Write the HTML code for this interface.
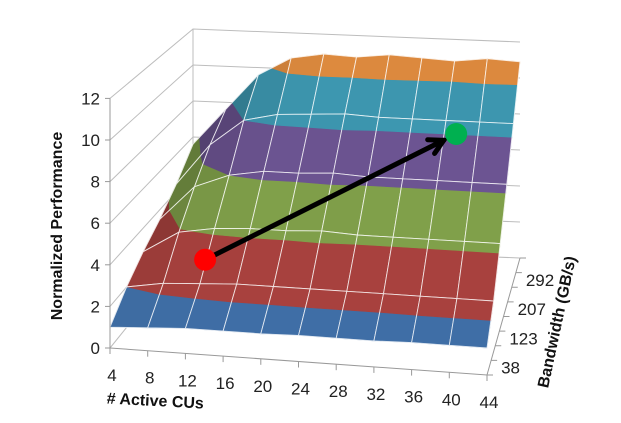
<!DOCTYPE html>
<html><head><meta charset="utf-8"><style>
html,body{margin:0;padding:0;background:#fff;}
svg{display:block;font-family:"Liberation Sans",Arial,sans-serif;}
</style></head><body>
<svg id="chart" width="621" height="423" viewBox="0 0 621 423" xmlns="http://www.w3.org/2000/svg">
<g id="walls"></g>
<g id="surface"></g>
<g id="axes"></g>
<g id="annot"></g>
<text transform="translate(62,226) rotate(-90)" text-anchor="middle" font-size="16" font-weight="bold" fill="#111">Normalized Performance</text>
<text transform="translate(155,406) rotate(3)" text-anchor="middle" font-size="16" font-weight="bold" fill="#111"># Active CUs</text>
<text transform="translate(562,323) rotate(-78)" text-anchor="middle" font-size="16" font-weight="bold" fill="#111">Bandwidth (GB/s)</text>
</svg>
<script>
const cuLabels = ["4","8","12","16","20","24","28","32","36","40","44"];
const bwLabels = ["38","123","207","292"];
const zTicks = [0,2,4,6,8,10,12];
const row0 = [1.0,1.1,1.2,1.2,1.2,1.25,1.25,1.25,1.3,1.3,1.3];
const row1 = [2.0,2.3,2.4,2.5,2.5,2.5,2.5,2.5,2.5,2.5,2.5];
const row2 = [2.8,3.9,4.2,4.3,4.3,4.4,4.3,4.3,4.3,4.3,4.3];
const row3 = [3.5,5.3,6.0,6.3,6.3,6.4,6.3,6.3,6.3,6.3,6.3];
const row4 = [4.4,6.6,8.0,8.4,8.5,8.6,8.5,8.5,8.5,8.5,8.5];
const row5 = [5.6,7.6,9.6,10.6,10.9,10.8,11.0,10.9,10.8,11.0,10.9];
const rows = [row0,row1,row2,row3,row4,row5];
const bandColors = ["#3f6ea6","#a8413e","#80a04a","#6c5492","#3d97b0","#dd8a3e"];
const startPoint = [2.1,1.1,3.5];
const endPoint = [8.4,3.6,8.2];

const NS="http://www.w3.org/2000/svg";
const FL=[110,348],FR=[487,375],BL=[193,245],BR=[520,258];
const SF=20.8,SB=18;
function proj(u,v,z){
  const fx=FL[0]+(FR[0]-FL[0])*u, fy=FL[1]+(FR[1]-FL[1])*u;
  const bx=BL[0]+(BR[0]-BL[0])*u, by=BL[1]+(BR[1]-BL[1])*u;
  const x=fx+(bx-fx)*v, y=fy+(by-fy)*v;
  const s=SF+(SB-SF)*v;
  return [x,y-z*s];
}
const nC=cuLabels.length-1, nR=rows.length-1;
function gp(c,r,z){return proj(c/nC,r/nR,z);}
function el(tag,attrs,parent){const e=document.createElementNS(NS,tag);for(const k in attrs)e.setAttribute(k,attrs[k]);parent.appendChild(e);return e;}
function shade(hex,f){const n=parseInt(hex.slice(1),16);const r=Math.round(((n>>16)&255)*f),g=Math.round(((n>>8)&255)*f),b=Math.round((n&255)*f);return "rgb("+r+","+g+","+b+")";}
const walls=document.getElementById('walls');
zTicks.forEach(z=>{
  const a=proj(0,0,z),b=proj(0,1,z),c=proj(1,1,z);
  const l=el('polyline',{points:a.join(',')+' '+b.join(',')+' '+c.join(','),fill:'none',stroke:'#bdbdbd','stroke-width':1},walls);
  
  
});
{const a=proj(0,1,0),b=proj(0,1,12);const l=el('line',{x1:a[0],y1:a[1],x2:b[0],y2:b[1],stroke:'#bdbdbd'},walls);

}
function clip(poly,lo,hi){
  function cl(p,test,lim){const out=[];for(let i=0;i<p.length;i++){const A=p[i],B=p[(i+1)%p.length];const ia=test(A[2]),ib=test(B[2]);if(ia)out.push(A);if(ia!==ib){const t=(lim-A[2])/(B[2]-A[2]);out.push([A[0]+(B[0]-A[0])*t,A[1]+(B[1]-A[1])*t,lim]);}}return out;}
  let p=cl(poly,z=>z>=lo,lo); if(p.length<3)return p; return cl(p,z=>z<=hi,hi);
}
const surf=document.getElementById('surface');
for(let r=nR-1;r>=0;r--){
  for(let c=0;c<nC;c++){
    const q=[[c,r,rows[r][c]],[c+1,r,rows[r][c+1]],[c+1,r+1,rows[r+1][c+1]],[c,r+1,rows[r+1][c]]];
    const slope=Math.abs((rows[r][c+1]+rows[r+1][c+1])-(rows[r][c]+rows[r+1][c]))/2;
    const f=Math.max(0.6,1-slope*0.11);
    for(let b=0;b<bandColors.length;b++){
      const p=clip(q,b*2,b*2+2);
      if(p.length<3)continue;
      const pts=p.map(v=>gp(v[0],v[1],v[2]).map(n=>n.toFixed(1)).join(',')).join(' ');
      const col=shade(bandColors[b],f);
      const pg=el('polygon',{points:pts,fill:col,stroke:col,'stroke-width':0.6},surf);
      
      
    }
    const pts=q.map(v=>gp(v[0],v[1],v[2]).map(n=>n.toFixed(1)).join(',')).join(' ');
    const o=el('polygon',{points:pts,fill:'none',stroke:'#ffffff','stroke-width':0.9,'stroke-opacity':0.85},surf);
    
    
  }
}
const ax=document.getElementById('axes');
{const a=proj(0,0,0),b=proj(0,0,12);const l=el('line',{x1:a[0],y1:a[1],x2:b[0],y2:b[1],stroke:'#999'},ax);

}
zTicks.forEach(z=>{
  const p=proj(0,0,z);
  const t=el('line',{x1:p[0]-5,y1:p[1],x2:p[0],y2:p[1],stroke:'#999'},ax);
  
  
  const tx=el('text',{x:p[0]-10,y:p[1]+6,'text-anchor':'end','font-size':17,fill:'#222'},ax);
  tx.textContent=z;
  
  
});
{const a=proj(0,0,0),b=proj(1,0,0),c=proj(1,1,0);
const l=el('polyline',{points:a.join(',')+' '+b.join(',')+' '+c.join(','),fill:'none',stroke:'#999'},ax);

}
cuLabels.forEach((s,i)=>{
  const p=proj(i/nC,0,0);
  const t=el('line',{x1:p[0],y1:p[1],x2:p[0],y2:p[1]+6,stroke:'#999'},ax);
  
  
  const tx=el('text',{x:p[0]+2,y:p[1]+33,'text-anchor':'middle','font-size':17,fill:'#222'},ax);
  tx.textContent=s;
  
  
});
const nT=8;
for(let i=0;i<=nT;i++){
  const p=proj(1,i/nT,0);
  const t=el('line',{x1:p[0],y1:p[1],x2:p[0]+6,y2:p[1],stroke:'#999'},ax);
  
  
}
bwLabels.forEach((s,i)=>{
  const p=proj(1,(2*i+0.5)/nT,0);
  const tx=el('text',{x:p[0]+12,y:p[1]+6,'text-anchor':'start','font-size':17,fill:'#222'},ax);
  tx.textContent=s;
  
  
});
const an=document.getElementById('annot');
const A=gp(startPoint[0],startPoint[1],startPoint[2]), B=gp(endPoint[0],endPoint[1],endPoint[2]);
const ang=Math.atan2(B[1]-A[1],B[0]-A[0]);
const tip=[B[0]-14*Math.cos(ang),B[1]-14*Math.sin(ang)];
const ar=el('line',{x1:A[0],y1:A[1],x2:tip[0],y2:tip[1],stroke:'#000','stroke-width':5,'stroke-linecap':'round'},an);


const h1=[tip[0]-16*Math.cos(ang-0.5),tip[1]-16*Math.sin(ang-0.5)],h2=[tip[0]-16*Math.cos(ang+0.5),tip[1]-16*Math.sin(ang+0.5)];
const hd=el('polyline',{points:h1.join(',')+' '+tip.join(',')+' '+h2.join(','),fill:'none',stroke:'#000','stroke-width':5,'stroke-linecap':'round','stroke-linejoin':'miter'},an);


const d1=el('circle',{cx:A[0],cy:A[1],r:11,fill:'#ff0000'},an);


const d2=el('circle',{cx:B[0],cy:B[1],r:11,fill:'#00b050'},an);


</script>
</body></html>
